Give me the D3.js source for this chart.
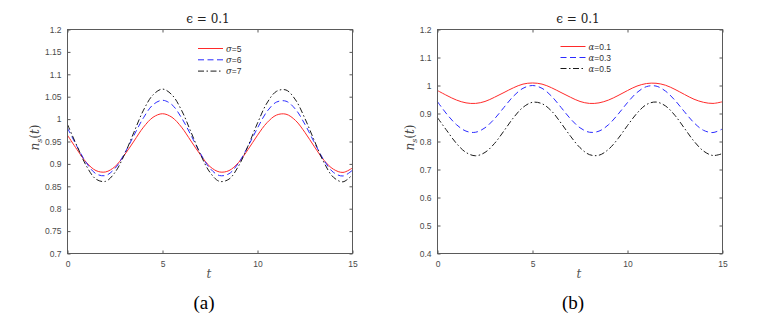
<!DOCTYPE html>
<html>
<head>
<meta charset="utf-8">
<script src="https://cdn.jsdelivr.net/npm/d3@7"></script>
<style>
  body { margin: 0; background: #fff; }
  svg { display: block; }
  .serif { font-family: "DejaVu Serif", "Liberation Serif", "Times New Roman", serif; }
  .tserif { font-family: "Liberation Serif", "Times New Roman", Times, "DejaVu Serif", serif; }
  .sans { font-family: "Liberation Sans", Arial, Helvetica, sans-serif; }
</style>
</head>
<body>
<svg id="chart" width="762" height="316"></svg>
<script>
// ---------------- DATA ----------------
const tValues = [0,0.5,1,1.5,2,2.5,3,3.5,4,4.5,5,5.5,6,6.5,7,7.5,8,8.5,9,9.5,10,10.5,11,11.5,12,12.5,13,13.5,14,14.5,15];

// Panel (a): sigma series
const sigmaLabels = ["5", "6", "7"];
const sigma5 = [0.964,0.932,0.903,0.885,0.882,0.894,0.920,0.951,0.982,1.004,1.012,1.004,0.982,0.951,0.920,0.894,0.882,0.885,0.903,0.932,0.964,0.992,1.009,1.011,0.997,0.970,0.938,0.908,0.888,0.881,0.891];
const sigma6 = [0.980,0.939,0.902,0.878,0.874,0.890,0.923,0.964,1.003,1.032,1.042,1.032,1.003,0.964,0.923,0.890,0.874,0.878,0.902,0.939,0.980,1.017,1.038,1.040,1.022,0.988,0.947,0.908,0.881,0.873,0.886];
const sigma7 = [0.988,0.940,0.895,0.866,0.861,0.881,0.921,0.971,1.020,1.054,1.067,1.054,1.020,0.971,0.921,0.881,0.861,0.866,0.895,0.940,0.991,1.036,1.062,1.065,1.043,1.001,0.951,0.903,0.870,0.860,0.876];

// Panel (b): alpha series
const alphaLabels = ["0.1", "0.3", "0.5"];
const alpha01 = [0.982,0.964,0.948,0.938,0.936,0.943,0.958,0.975,0.992,1.005,1.009,1.005,0.992,0.975,0.958,0.943,0.936,0.938,0.948,0.964,0.982,0.998,1.007,1.008,1.001,0.986,0.968,0.951,0.940,0.936,0.942];
const alpha03 = [0.942,0.897,0.860,0.837,0.833,0.849,0.881,0.922,0.962,0.990,1.000,0.990,0.962,0.922,0.881,0.849,0.833,0.837,0.860,0.897,0.939,0.975,0.996,0.998,0.980,0.947,0.906,0.867,0.840,0.832,0.845];
const alpha05 = [0.885,0.838,0.793,0.761,0.749,0.761,0.793,0.838,0.885,0.922,0.940,0.935,0.909,0.866,0.819,0.778,0.753,0.751,0.772,0.810,0.857,0.901,0.932,0.941,0.927,0.893,0.847,0.801,0.766,0.750,0.757];

const xTicks = [0, 5, 10, 15];
const yTicksA = [0.7,0.75,0.8,0.85,0.9,0.95,1,1.05,1.1,1.15,1.2];
const yTicksB = [0.4,0.5,0.6,0.7,0.8,0.9,1,1.1,1.2];
const titleText = "\u03F5 = 0.1";

// ---------------- STYLES ----------------
const seriesStyles = [
  { color: "#ff2a2a", dash: null },
  { color: "#2b2bff", dash: "6,3.5" },
  { color: "#1a1a1a", dash: "6,2.5,1.5,2.5" }
];

const svg = d3.select("#chart");
const axisColor = "#5a5a5a";

function panel(opts) {
  const { left, right, top, bottom, yDomain, yTicks, series, legendName, legendLabels, legendX, legendY, legendStep, panelLabel, panelLabelX, yLabelX } = opts;
  const x = d3.scaleLinear().domain([0, 15]).range([left, right]);
  const y = d3.scaleLinear().domain(yDomain).range([bottom, top]);
  const g = svg.append("g");

  // curves
  const line = d3.line()
    .x((d, i) => x(tValues[i]))
    .y(d => y(d))
    .curve(d3.curveCatmullRom.alpha(0.5));
  series.forEach((s, i) => {
    g.append("path").datum(s)
      .attr("d", line)
      .attr("fill", "none")
      .attr("stroke", seriesStyles[i].color)
      .attr("stroke-width", 1)
      .attr("stroke-dasharray", seriesStyles[i].dash);
  });

  // axes (inward ticks, mirrored)
  const axBottom = d3.axisBottom(x).tickValues(xTicks).tickSize(-3).tickPadding(7).tickFormat(d3.format("d"));
  const axTop = d3.axisTop(x).tickValues(xTicks).tickSize(-3).tickFormat("");
  const axLeft = d3.axisLeft(y).tickValues(yTicks).tickSize(-3).tickPadding(6).tickFormat(d => String(+d.toFixed(2)));
  const axRight = d3.axisRight(y).tickValues(yTicks).tickSize(-3).tickFormat("");

  const styleAxis = sel => {
    sel.attr("font-family", null).attr("font-size", null);
    sel.select(".domain").remove();
    sel.selectAll(".tick line").attr("stroke", axisColor);
    sel.selectAll(".tick text").attr("fill", "#4a4a4a").attr("class", "sans").style("font-size", "8.5px");
  };
  g.append("g").attr("transform", `translate(0,${bottom})`).call(axBottom).call(styleAxis);
  g.append("g").attr("transform", `translate(0,${top})`).call(axTop).call(styleAxis);
  g.append("g").attr("transform", `translate(${left},0)`).call(axLeft).call(styleAxis);
  g.append("g").attr("transform", `translate(${right},0)`).call(axRight).call(styleAxis);
  g.append("rect").attr("x", left).attr("y", top)
    .attr("width", right - left).attr("height", bottom - top)
    .attr("fill", "none").attr("stroke", axisColor).attr("stroke-width", 1);

  // title
  const cx = (left + right) / 2;
  g.append("text").attr("class", "serif").attr("x", cx - 2).attr("y", 23)
    .attr("text-anchor", "middle")
    .style("font-size", "12px").attr("fill", "#222")
    .text(titleText);

  // x label
  g.append("text").attr("class", "serif").attr("x", cx - 1).attr("y", 278)
    .attr("text-anchor", "middle")
    .style("font-style", "italic").style("font-size", "12px").attr("fill", "#555")
    .text("t");

  // y label n_s(t)
  const yl = g.append("text").attr("class", "serif")
    .attr("transform", `translate(${yLabelX},${(top + bottom) / 2 - 4}) rotate(-90)`)
    .attr("text-anchor", "middle")
    .style("font-size", "12px").attr("fill", "#444");
  yl.append("tspan").style("font-style", "italic").text("n");
  yl.append("tspan").style("font-style", "italic").style("font-size", "8px").attr("dy", 3).text("s");
  yl.append("tspan").attr("dy", -3).text("(");
  yl.append("tspan").style("font-style", "italic").text("t");
  yl.append("tspan").text(")");

  // legend
  legendLabels.forEach((lab, i) => {
    const ly = legendY + i * legendStep;
    g.append("line").attr("x1", legendX).attr("x2", legendX + 25)
      .attr("y1", ly).attr("y2", ly)
      .attr("stroke", seriesStyles[i].color).attr("stroke-width", 1)
      .attr("stroke-dasharray", seriesStyles[i].dash);
    const t = g.append("text").attr("class", "sans").attr("x", legendX + 28).attr("y", ly + 3)
      .style("font-size", "8.5px").attr("fill", "#333");
    t.append("tspan").attr("class", "serif").style("font-style", "italic").text(legendName);
    t.append("tspan").text("=" + lab);
  });

  // panel label
  g.append("text").attr("class", "tserif").attr("x", panelLabelX).attr("y", 309)
    .attr("text-anchor", "middle")
    .style("font-size", "19px").attr("fill", "#000")
    .text(panelLabel);
}

panel({
  left: 67.5, right: 352.5, top: 29.5, bottom: 253.5,
  yDomain: [0.7, 1.2], yTicks: yTicksA,
  series: [sigma5, sigma6, sigma7],
  legendName: "\u03C3", legendLabels: sigmaLabels,
  legendX: 198, legendY: 48.5, legendStep: 11.3,
  panelLabel: "(a)", panelLabelX: 204, yLabelX: 39
});

panel({
  left: 437.5, right: 722.5, top: 29.5, bottom: 253.5,
  yDomain: [0.4, 1.2], yTicks: yTicksB,
  series: [alpha01, alpha03, alpha05],
  legendName: "\u03B1", legendLabels: alphaLabels,
  legendX: 560.5, legendY: 46.5, legendStep: 11,
  panelLabel: "(b)", panelLabelX: 573, yLabelX: 414
});
</script>
</body>
</html>
